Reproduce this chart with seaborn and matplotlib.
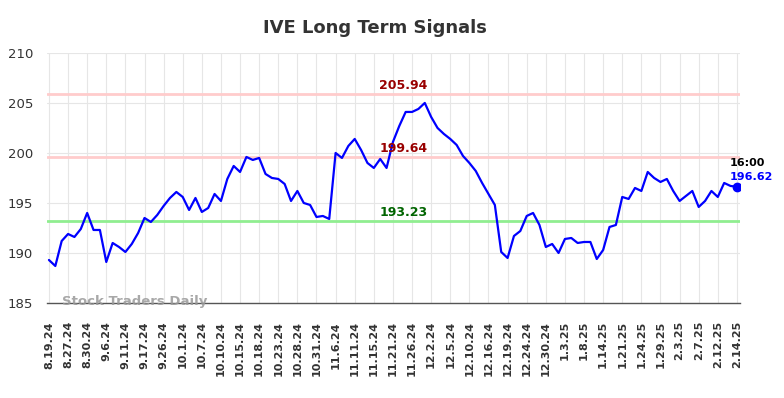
import matplotlib
matplotlib.use('Agg')
import matplotlib.pyplot as plt
import matplotlib.transforms as mtransforms
import seaborn as sns
import pandas as pd


# valores (um ponto a cada ~2 pregoes)
precos = [
    189.3, 188.7, 191.2, 191.9, 191.6, 192.4, 194.0, 192.3, 192.3, 189.1,
    191.0, 190.6, 190.1, 190.9, 192.0, 193.5, 193.1, 193.8, 194.7, 195.5,
    196.1, 195.6, 194.3, 195.5, 194.1, 194.5, 195.9, 195.2, 197.4, 198.7,
    198.1, 199.6, 199.3, 199.5, 197.9, 197.5, 197.4, 196.9, 195.2, 196.2,
    195.0, 194.8, 193.6, 193.7, 193.4, 200.0, 199.5, 200.7, 201.4, 200.3,
    199.0, 198.5, 199.4, 198.5, 201.1, 202.7,
    204.1, 204.1, 204.4, 205.0, 203.6, 202.5, 201.9, 201.4, 200.8, 199.7,
    199.0, 198.2, 197.0, 195.9, 194.8, 190.1, 189.5, 191.7, 192.2, 193.7,
    194.0, 192.8, 190.6, 190.9, 190.0, 191.4, 191.5, 191.0, 191.1, 191.1,
    189.4, 190.3, 192.6, 192.8, 195.6, 195.4, 196.5, 196.2, 198.1, 197.5,
    197.1, 197.4, 196.2, 195.2, 195.7, 196.2, 194.6, 195.2, 196.2, 195.6,
    197.0, 196.7, 196.62,
]

datas = [
    '8.19.24', '8.27.24', '8.30.24', '9.6.24', '9.11.24', '9.17.24', '9.26.24',
    '10.1.24', '10.7.24', '10.10.24', '10.15.24', '10.18.24', '10.23.24',
    '10.28.24', '10.31.24', '11.6.24', '11.11.24', '11.15.24', '11.21.24',
    '11.26.24', '12.2.24', '12.5.24', '12.10.24', '12.16.24', '12.19.24',
    '12.24.24', '12.30.24', '1.3.25', '1.8.25', '1.14.25', '1.21.25',
    '1.24.25', '1.29.25', '2.3.25', '2.7.25', '2.12.25', '2.14.25',
]

resistencia_alta = 205.94
resistencia = 199.64
suporte = 193.23
hora = '16:00'

df = pd.DataFrame({'idx': range(len(precos)), 'preco': precos})

sns.set_style('whitegrid', {'grid.color': '#e6e6e6'})
plt.rcParams['font.family'] = ['DejaVu Sans']

fig = plt.figure(figsize=(7.84, 3.98), dpi=100)
ax = fig.add_axes([0.060, 0.2387, 0.884, 0.6283])

ax.axhline(resistencia_alta, color='#ffcccc', lw=2, zorder=1)
ax.axhline(resistencia, color='#ffcccc', lw=2, zorder=1)
ax.axhline(suporte, color='#90ee90', lw=2, zorder=1)

sns.lineplot(data=df, x='idx', y='preco', color='#0000ff', lw=1.6, ax=ax, zorder=3)
ax.plot(df['idx'].iloc[-1], df['preco'].iloc[-1], 'o', color='#0000ff', ms=6, zorder=4)

trans = mtransforms.blended_transform_factory(ax.transAxes, ax.transData)
for valor, cor in [(resistencia_alta, '#990000'), (resistencia, '#990000'), (suporte, '#006400')]:
    ax.text(0.514, valor + 0.2, f'{valor:.2f}', transform=trans, ha='center', va='bottom',
            color=cor, fontsize=9, fontweight='bold', zorder=5)

ult_x = df['idx'].iloc[-1]
ult_y = df['preco'].iloc[-1]
ax.annotate(hora, (ult_x, ult_y), xytext=(-7, 24), textcoords='offset pixels',
            ha='left', va='center', fontsize=8, fontweight='bold', color='black')
ax.annotate(f'{ult_y:.2f}', (ult_x, ult_y), xytext=(-7, 10), textcoords='offset pixels',
            ha='left', va='center', fontsize=8, fontweight='bold', color='#0000ff')

ax.text(0.022, 0.004, 'Stock Traders Daily', transform=ax.transAxes, ha='left', va='center',
        fontsize=9.5, fontweight='bold', color='#999999', alpha=0.85, zorder=5, clip_on=False)

ax.set_xlim(-0.3, len(precos) - 1 + 0.5)
ax.set_ylim(185, 210)
ax.set_yticks([185, 190, 195, 200, 205, 210])
ax.set_xticks(range(0, len(precos), 3))
ax.set_xticklabels(datas, rotation=90, fontweight='bold')
ax.tick_params(axis='x', labelsize=8, pad=13, length=0, colors='#333333')
ax.tick_params(axis='y', labelsize=9.5, pad=10, length=0, colors='#333333')
ax.set_xlabel('')
ax.set_ylabel('')

for lado in ['top', 'right', 'left']:
    ax.spines[lado].set_visible(False)
ax.spines['bottom'].set_color('#555555')
ax.spines['bottom'].set_linewidth(1)

fig.suptitle('IVE Long Term Signals', x=0.478, y=0.952, fontsize=13, fontweight='bold', color='#333333')

fig.savefig('out.png', dpi=100)
